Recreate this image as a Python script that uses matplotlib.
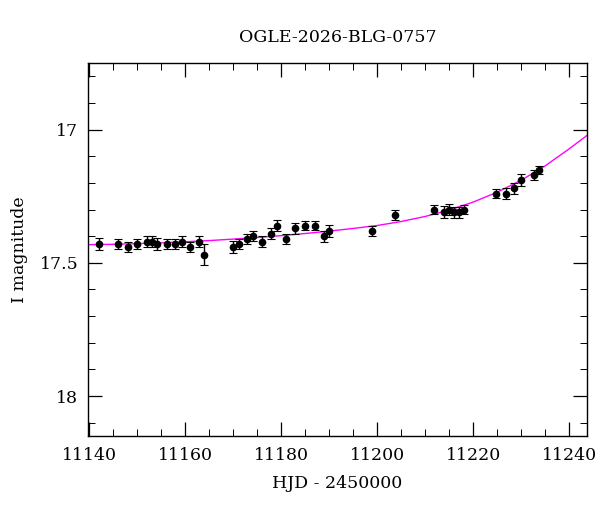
import matplotlib
matplotlib.use("Agg")
import matplotlib.pyplot as plt
from matplotlib.ticker import MultipleLocator, FuncFormatter

# Observations (HJD - 2450000, I mag, error)
hjd = [11142.1, 11146.1, 11148.1, 11150.0, 11152.1, 11153.2, 11154.2, 11156.2,
       11158.0, 11159.3, 11161.1, 11162.9, 11163.9,
       11170.0, 11171.2, 11173.0, 11174.1, 11176.0, 11178.0, 11179.2, 11181.0,
       11183.0, 11185.0, 11187.1, 11188.9, 11190.0,
       11199.0, 11203.8, 11211.8, 11214.0, 11215.0, 11216.0, 11217.0, 11218.0,
       11224.8, 11226.9, 11228.6, 11229.9, 11232.7, 11233.8]
mag = [17.43, 17.43, 17.44, 17.43, 17.42, 17.42, 17.43, 17.43,
       17.43, 17.42, 17.44, 17.42, 17.47,
       17.44, 17.43, 17.41, 17.40, 17.42, 17.39, 17.36, 17.41,
       17.37, 17.36, 17.36, 17.40, 17.38,
       17.38, 17.32, 17.30, 17.31, 17.30, 17.31, 17.31, 17.30,
       17.24, 17.24, 17.22, 17.19, 17.17, 17.15]
err = [0.023, 0.02, 0.02, 0.02, 0.022, 0.02, 0.022, 0.02,
       0.02, 0.02, 0.02, 0.022, 0.04,
       0.022, 0.02, 0.02, 0.018, 0.02, 0.02, 0.02, 0.018,
       0.02, 0.018, 0.018, 0.02, 0.022,
       0.018, 0.02, 0.018, 0.022, 0.02, 0.02, 0.02, 0.018,
       0.018, 0.022, 0.02, 0.022, 0.018, 0.015]

# Model curve
model_t = [11139.8, 11145, 11150, 11155, 11160, 11165, 11170, 11175, 11180,
           11185, 11190, 11195, 11200, 11205, 11210, 11215, 11220, 11225,
           11230, 11235, 11240, 11243.7]
model_m = [17.432, 17.4305, 17.428, 17.425, 17.421, 17.4165, 17.411, 17.405,
           17.398, 17.390, 17.381, 17.371, 17.360, 17.345, 17.326, 17.302,
           17.272, 17.235, 17.190, 17.136, 17.072, 17.022]

title = "OGLE-2026-BLG-0757"
xlabel = "HJD - 2450000"
ylabel = "I magnitude"

plt.rcParams['font.family'] = ['DejaVu Serif']
fig = plt.figure(figsize=(6.0, 5.12), dpi=100)
ax = fig.add_axes([88/600, 1 - 436/512, (587-88)/600, (436-63)/512])

ax.plot(model_t, model_m, color='#ff00ff', lw=1.0, zorder=1)
ax.errorbar(hjd, mag, yerr=err, fmt='o', color='black', ms=4.5, capsize=3,
            elinewidth=1.0, capthick=0.8, zorder=2)

ax.set_xlim(11139.8, 11243.7)
ax.set_ylim(18.15, 16.75)
ax.xaxis.set_major_locator(MultipleLocator(20))
ax.xaxis.set_minor_locator(MultipleLocator(5))
ax.yaxis.set_major_locator(MultipleLocator(0.5))
ax.yaxis.set_minor_locator(MultipleLocator(0.1))
ax.tick_params(which='both', direction='in', top=True, right=True, labelsize=12.5)
ax.tick_params(which='major', length=10, width=0.9)
ax.tick_params(which='minor', length=5, width=0.7)
ax.tick_params(axis='x', which='major', pad=8)
ax.tick_params(axis='y', which='major', pad=7)
ax.yaxis.set_major_formatter(FuncFormatter(lambda v, p: '%g' % v))
for s in ax.spines.values():
    s.set_linewidth(1.0)

ax.set_title(title, fontsize=12.5, pad=15)
ax.set_xlabel(xlabel, fontsize=12.5, labelpad=8)
ax.set_ylabel(ylabel, fontsize=12.5, labelpad=8)

fig.savefig("out.png", dpi=100)
